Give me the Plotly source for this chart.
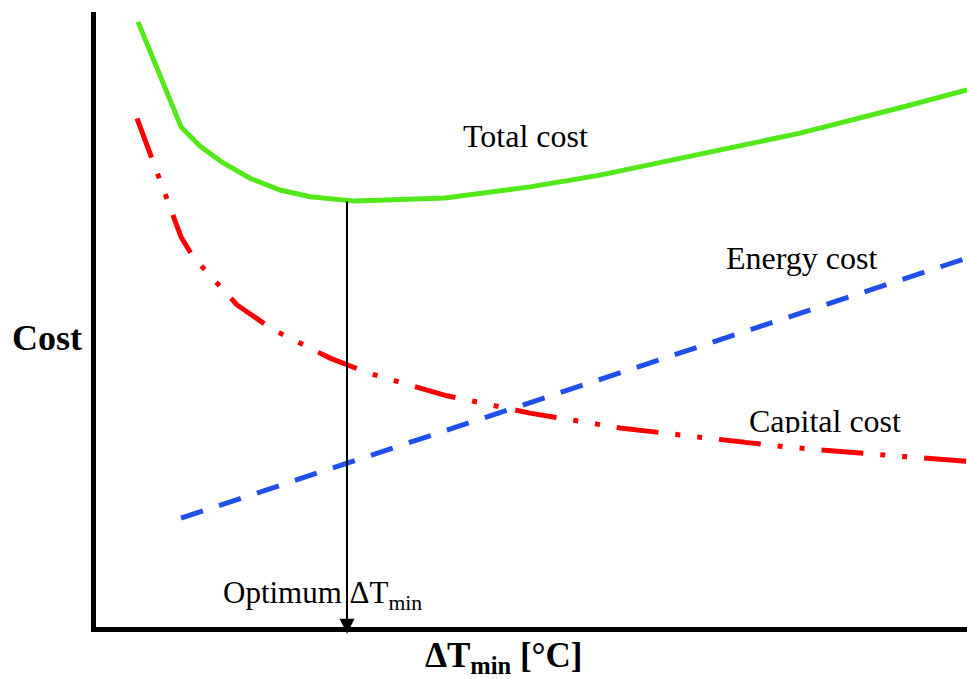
import plotly.graph_objects as go

# Total cost curve (arbitrary units: x = ΔTmin, y = cost)
total_x = [0.515, 1.007, 1.224, 1.476, 1.796, 2.140, 2.483, 2.998, 4.027, 5.0, 5.80, 6.945, 8.09, 9.233, 10.0]
total_y = [9.84, 8.14, 7.83, 7.57, 7.31, 7.12, 7.01, 6.94, 6.99, 7.17, 7.36, 7.69, 8.04, 8.45, 8.74]

# Capital cost curve
capital_x = [0.503, 1.007, 1.144, 1.648, 2.048, 2.712, 3.146, 4.050, 5.0, 6.03, 6.945, 7.94, 9.153, 10.0]
capital_y = [8.28, 6.36, 6.04, 5.26, 4.87, 4.40, 4.16, 3.79, 3.51, 3.27, 3.12, 2.96, 2.82, 2.73]

# Energy cost line
energy_x = [1.007, 10.0]
energy_y = [1.81, 6.02]

# Optimum ΔTmin
opt_x = 2.906
opt_cost = 6.96

SERIF = "Liberation Serif, Times New Roman, serif"

fig = go.Figure()
fig.add_trace(go.Scatter(x=energy_x, y=energy_y, mode="lines",
                         line=dict(color="#1F50E8", width=5, dash="23px,17px"),
                         name="Energy cost", showlegend=False, hoverinfo="skip"))
fig.add_trace(go.Scatter(x=capital_x, y=capital_y, mode="lines",
                         line=dict(color="#FF0000", width=5,
                                   dash="42px,17px,5px,17px,5px,17px"),
                         name="Capital cost", showlegend=False, hoverinfo="skip"))
fig.add_trace(go.Scatter(x=total_x, y=total_y, mode="lines",
                         line=dict(color="#52E81A", width=5),
                         name="Total cost", showlegend=False, hoverinfo="skip"))
# "Capital cost" label as a text trace (its lower edge is masked, as in the original)
fig.add_trace(go.Scatter(x=[8.375], y=[3.33], mode="text", text=["Capital cost"],
                         textposition="middle center",
                         textfont=dict(family=SERIF, size=32, color="black"),
                         showlegend=False, hoverinfo="skip"))

ann = []
# optimum arrow
ann.append(dict(x=opt_x, y=-0.06, ax=opt_x, ay=opt_cost, xref="x", yref="y",
                axref="x", ayref="y", text="", showarrow=True,
                arrowhead=2, arrowwidth=2, arrowsize=1.5, arrowcolor="black"))
ann.append(dict(x=4.954, y=7.99, xref="x", yref="y", text="Total cost", showarrow=False,
                font=dict(family=SERIF, size=32, color="black")))
ann.append(dict(x=8.11, y=6.02, xref="x", yref="y", text="Energy cost", showarrow=False,
                font=dict(family=SERIF, size=32, color="black")))
ann.append(dict(x=2.63, y=0.57, xref="x", yref="y",
                text="Optimum ΔT<sub>min</sub>", showarrow=False,
                font=dict(family=SERIF, size=31, color="black")))
ann.append(dict(x=0, y=4.72, xref="paper", yref="y", xanchor="right", xshift=-12,
                text="<b>Cost</b>", showarrow=False,
                font=dict(family=SERIF, size=36, color="black")))
ann.append(dict(x=4.697, y=0, xref="x", yref="paper", yanchor="top", yshift=-7,
                text="<b>ΔT<sub>min</sub> [°C]</b>", showarrow=False,
                font=dict(family=SERIF, size=35, color="black")))

fig.update_layout(
    width=967, height=679,
    margin=dict(l=96, r=0, t=12, b=52),
    plot_bgcolor="white", paper_bgcolor="white",
    showlegend=False,
    annotations=ann,
    shapes=[dict(type="rect", xref="x", yref="y", x0=7.46, x1=9.29, y0=3.07, y1=3.19,
                 fillcolor="white", line=dict(width=0), layer="above")],
    xaxis=dict(range=[0.034, 10], showline=True, linewidth=5, linecolor="black",
               showgrid=False, zeroline=False, showticklabels=False, ticks=""),
    yaxis=dict(range=[0.049, 10], showline=True, linewidth=5, linecolor="black",
               showgrid=False, zeroline=False, showticklabels=False,
               tickmode="array", tickvals=[10], ticks="inside", ticklen=26,
               tickwidth=1.5, tickcolor="black"),
)

fig.write_html("out.html", config={"displayModeBar": False},
               post_script="document.body.style.margin='0';document.body.style.overflow='hidden';")
